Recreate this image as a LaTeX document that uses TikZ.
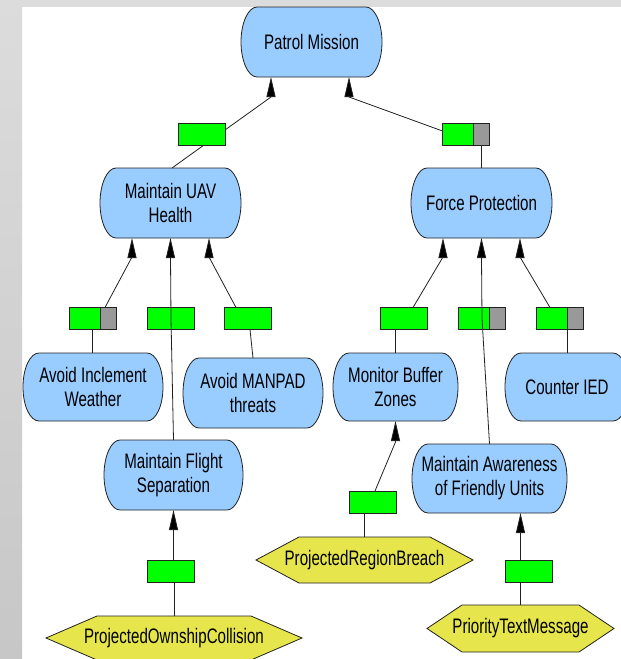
\documentclass[tikz,border=0pt]{standalone}
\usepackage{fontspec}
\setmainfont{Liberation Sans}[FakeStretch=0.72]
\usetikzlibrary{arrows.meta,calc}
\pgfdeclarelayer{paper}
\pgfdeclarelayer{shapes}
\pgfsetlayers{paper,shapes,main}

\definecolor{goalblue}{HTML}{99CCFF}
\definecolor{eventyellow}{HTML}{E6E64C}
\definecolor{andgreen}{HTML}{00FF00}
\definecolor{partgray}{HTML}{999999}
\definecolor{stripgray}{HTML}{DCDCDC}
\definecolor{inkline}{HTML}{222222}

\tikzset{
  goal/.style={rectangle, inner sep=0pt, outer sep=0pt, align=center,
    text=black, font=\fontsize{21}{24}\selectfont},
  event/.style={goal},
  andbox/.style={rectangle, draw=inkline, line width=0.8pt, fill=andgreen,
    minimum width=47pt, minimum height=22pt, inner sep=0pt, outer sep=0pt},
  partbox/.style={andbox, path picture={
    \fill[partgray] ([xshift=-16pt]path picture bounding box.north east)
      rectangle (path picture bounding box.south east);
    \draw[inkline, line width=0.8pt]
      ([xshift=-16pt]path picture bounding box.north east)
      -- ([xshift=-16pt]path picture bounding box.south east);}},
  link/.style={draw=inkline, line width=0.8pt},
  arrowlink/.style={link, -{Triangle[length=20pt,width=9pt,fill=black]}},
  outline/.style={draw=inkline, line width=0.8pt}
}

% rounded goal outline with elliptical ends
\newcommand\goaloutline[1]{%
  \filldraw[outline, fill=goalblue]
    ([xshift=16pt]#1.north west) -- ([xshift=-16pt]#1.north east)
    .. controls ([xshift=-7.2pt]#1.north east) and ([yshift=19pt]#1.east) .. (#1.east)
    .. controls ([yshift=-19pt]#1.east) and ([xshift=-7.2pt]#1.south east) .. ([xshift=-16pt]#1.south east)
    -- ([xshift=16pt]#1.south west)
    .. controls ([xshift=7.2pt]#1.south west) and ([yshift=-19pt]#1.west) .. (#1.west)
    .. controls ([yshift=19pt]#1.west) and ([xshift=7.2pt]#1.north west) .. ([xshift=16pt]#1.north west)
    -- cycle;}

% hexagonal event outline, #2 = horizontal inset of the corners
\newcommand\eventoutline[2]{%
  \filldraw[outline, fill=eventyellow]
    ([xshift=#2]#1.north west) -- ([xshift=-#2]#1.north east) -- (#1.east)
    -- ([xshift=-#2]#1.south east) -- ([xshift=#2]#1.south west) -- (#1.west) -- cycle;}

\begin{document}
\begin{tikzpicture}[x=1pt, y=-1pt]
\useasboundingbox (0,0) rectangle (621,659);
\clip (0,0) rectangle (621,659);

\begin{pgfonlayer}{paper}
  \fill[white] (0,0) rectangle (621,659);
  \shade[top color=stripgray, bottom color=black!22] (0,0) rectangle (22,659);
  \fill[stripgray] (0,0) rectangle (621,7);
\end{pgfonlayer}

% goals
\node[goal, minimum width=141pt, minimum height=70pt] (pm)   at (311.5,42)  {Patrol Mission};
\node[goal, minimum width=141pt, minimum height=70pt] (uav)  at (170.5,203) {Maintain UAV\\Health};
\node[goal, minimum width=141pt, minimum height=70pt] (fp)   at (481.5,203) {Force Protection};
\node[goal, minimum width=140pt, minimum height=68pt] (aiw)  at (93,387)    {Avoid Inclement\\Weather};
\node[goal, minimum width=140pt, minimum height=70pt] (amt)  at (253,393)   {Avoid MANPAD\\threats};
\node[goal, minimum width=139pt, minimum height=70pt] (mfs)  at (173.5,475) {Maintain Flight\\Separation};
\node[goal, minimum width=125pt, minimum height=68pt] (mbz)  at (395.5,387) {Monitor Buffer\\Zones};
\node[goal, minimum width=124pt, minimum height=68pt] (cied) at (567,387)   {Counter IED};
\node[goal, minimum width=155pt, minimum height=69pt] (mafu) at (489.5,478.5) {Maintain Awareness\\of Friendly Units};

% events
\node[event, minimum width=217pt, minimum height=46pt] (prb) at (364.5,560)   {ProjectedRegionBreach};
\node[event, minimum width=256pt, minimum height=44pt] (poc) at (174,638)     {ProjectedOwnshipCollision};
\node[event, minimum width=187pt, minimum height=47pt] (ptm) at (520.5,628.5) {PriorityTextMessage};

\begin{pgfonlayer}{shapes}
  \foreach \g in {pm,uav,fp,aiw,amt,mfs,mbz,cied,mafu}{\goaloutline{\g}}
  \eventoutline{prb}{43pt}
  \eventoutline{poc}{51pt}
  \eventoutline{ptm}{35pt}
\end{pgfonlayer}

% refinement boxes
\node[andbox]  (b1)  at (201.5,134) {};
\node[partbox] (b2)  at (466,134)   {};
\node[partbox] (b3)  at (92.5,318.5) {};
\node[andbox]  (b4)  at (171,318.5) {};
\node[andbox]  (b5)  at (248,318.5) {};
\node[andbox]  (b6)  at (403.5,318.5) {};
\node[partbox] (b7)  at (482,318.5) {};
\node[partbox] (b8)  at (559.5,318.5) {};
\node[andbox]  (b9)  at (373,502)   {};
\node[andbox]  (b10) at (170.5,571) {};
\node[andbox]  (b11) at (528.5,571) {};

% top level
\draw[arrowlink] ([yshift=4pt]b1.east) -- ([xshift=-40.5pt,yshift=-20pt]pm.south) -- ([xshift=-40.5pt]pm.south);
\draw[link] ([xshift=2.5pt]b1.south) -- ([xshift=1.5pt]uav.north);
\draw[arrowlink] ([yshift=3pt]b2.west) -- ([xshift=37.5pt,yshift=-20pt]pm.south) -- ([xshift=37.5pt]pm.south);
\draw[link] (fp.north) -- (fp.north |- b2.south);

% under Maintain UAV Health
\draw[arrowlink] ([xshift=12.5pt]b3.north) -- ([xshift=-38.5pt,yshift=-19pt]uav.south) -- ([xshift=-38.5pt]uav.south);
\draw[link] (b3.south) -- (b3.south |- aiw.north);
\draw[link] (mfs.north) -- (b4.center);
\draw[arrowlink] (b4.center) -- ([yshift=-19pt]uav.south) -- (uav.south);
\draw[arrowlink] ([xshift=-12pt]b5.north) -- ([xshift=38.5pt,yshift=-19pt]uav.south) -- ([xshift=38.5pt]uav.south);
\draw[link] ([xshift=2pt]b5.south) -- (amt.north);

% under Force Protection
\draw[arrowlink] ([xshift=9.5pt]b6.north) -- ([xshift=-38.5pt,yshift=-19pt]fp.south) -- ([xshift=-38.5pt]fp.south);
\draw[link] (mbz.north) -- (mbz.north |- b6.south);
\draw[link] (mafu.north) -- (b7.center);
\draw[arrowlink] (b7.center) -- ([yshift=-19pt]fp.south) -- (fp.south);
\draw[arrowlink] ([xshift=-9.5pt]b8.north) -- ([xshift=38.5pt,yshift=-19pt]fp.south) -- ([xshift=38.5pt]fp.south);
\draw[link] (cied.north) -- (cied.north |- b8.south);

% events
\draw[arrowlink] ([xshift=2pt]b9.north) -- ([yshift=-21pt]mbz.south) -- (mbz.south);
\draw[link] (prb.north) -- (prb.north |- b9.south);
\draw[arrowlink] (b10.north -| mfs.south) -- (mfs.south);
\draw[link] (poc.north) -- (poc.north |- b10.south);
\draw[arrowlink] (b11.north -| ptm.north) -- (ptm.north |- mafu.south);
\draw[link] (ptm.north) -- (ptm.north |- b11.south);
\end{tikzpicture}
\end{document}
